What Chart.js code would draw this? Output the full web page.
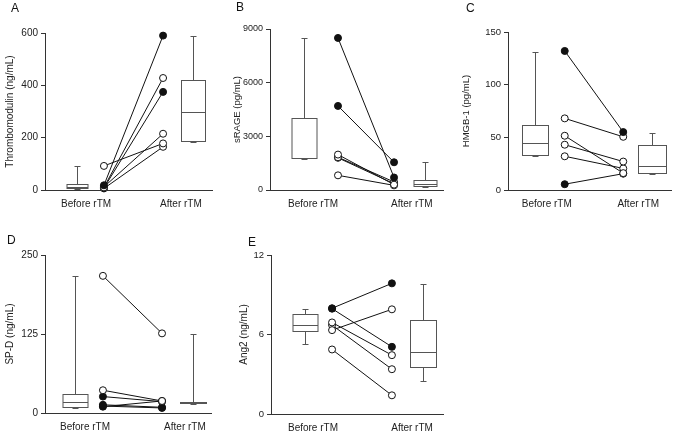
<!DOCTYPE html>
<html><head><meta charset="utf-8">
<script src="https://cdn.jsdelivr.net/npm/chart.js@4"></script>
<style>
body{margin:0;background:#fff;width:676px;height:435px;position:relative;overflow:hidden;font-family:"Liberation Sans",Arial,sans-serif}
canvas{position:absolute}
.lt{position:absolute;font-size:12px;line-height:12px;color:#111}
</style></head><body>
<script>
const groups = ['Before rTM', 'After rTM'];

/* A: Thrombomodulin (ng/mL) */
const tmBefore = [18, 10, 8, 12, 92, 6];
const tmAfter  = [590, 428, 375, 215, 178, 165];
const tmFilled = [1, 0, 1, 0, 0, 0];
const tmBoxBefore = [5, 6, 13, 22, 92];      // min, q1, median, q3, max
const tmBoxAfter  = [182, 187, 299, 419, 590];

/* B: sRAGE (pg/mL) */
const srBefore = [8500, 4700, 1980, 1830, 1800, 820];
const srAfter  = [700, 1550, 300, 450, 350, 260];
const srFilled = [1, 1, 0, 0, 0, 0];
const srBoxBefore = [1720, 1770, 1800, 4000, 8500];
const srBoxAfter  = [170, 230, 330, 580, 1550];

/* C: HMGB-1 (pg/mL) */
const hmBefore = [132, 68, 51.5, 43, 32, 5.5];
const hmAfter  = [55, 50.5, 16, 27, 20.5, 15.5];
const hmFilled = [1, 0, 0, 0, 0, 1];
const hmBoxBefore = [32, 33, 45, 62, 131];
const hmBoxAfter  = [15, 16, 23, 42.5, 54.5];

/* D: SP-D (ng/mL) */
const spBefore = [217, 36, 26, 13, 10, 11];
const spAfter  = [126, 19, 18, 9, 19, 8];
const spFilled = [0, 0, 1, 1, 1, 1];
const spBoxBefore = [8, 10, 18, 30, 216];
const spBoxAfter  = [15, 16, 17, 18, 125];

/* E: Ang2 (ng/mL) */
const anBefore = [7.98, 7.95, 6.33, 6.91, 6.71, 4.87];
const anAfter  = [9.86, 5.07, 7.9, 4.44, 3.38, 1.41];
const anFilled = [1, 1, 0, 0, 0, 0];
const anBoxBefore = [5.32, 6.28, 6.69, 7.57, 7.9];
const anBoxAfter  = [2.5, 3.51, 4.67, 7.09, 9.79];

const FAMILY = '"Liberation Sans", Arial, sans-serif';
const INK = '#222';

/* Boxplot von Hand über die Skalen zeichnen */
function drawBox(chart, xv, s, w) {
  const { ctx, scales: { x, y } } = chart;
  const cx = Math.round(x.getPixelForValue(xv)) + 0.5;
  const hw = w / 2, cap = 3;
  const [mn, q1, md, q3, mx] = s.map(v => Math.round(y.getPixelForValue(v)) + 0.5);
  ctx.save();
  ctx.strokeStyle = '#555'; ctx.lineWidth = 1;
  ctx.beginPath();
  ctx.moveTo(cx, q3); ctx.lineTo(cx, mx); ctx.moveTo(cx - cap, mx); ctx.lineTo(cx + cap, mx);
  if (mn > q1) { ctx.moveTo(cx, q1); ctx.lineTo(cx, mn); ctx.moveTo(cx - cap, mn); ctx.lineTo(cx + cap, mn); }
  ctx.stroke();
  ctx.fillStyle = '#fff';
  ctx.fillRect(cx - hw, q3, w, q1 - q3);
  ctx.strokeRect(cx - hw, q3, w, q1 - q3);
  ctx.beginPath(); ctx.moveTo(cx - hw, md); ctx.lineTo(cx + hw, md); ctx.stroke();
  ctx.restore();
}

function panel(p) {
  const cv = document.createElement('canvas');
  cv.width = p.cv[2]; cv.height = p.cv[3];
  cv.style.left = p.cv[0] + 'px'; cv.style.top = p.cv[1] + 'px';
  document.body.appendChild(cv);
  const lt = document.createElement('div');
  lt.className = 'lt'; lt.textContent = p.letter;
  lt.style.left = p.lt[0] + 'px'; lt.style.top = p.lt[1] + 'px';
  document.body.appendChild(lt);

  const [bx1, px1, px2, bx2, lb1, lb2] = p.slots;
  const datasets = p.before.map((b, i) => ({
    data: [{ x: px1, y: b }, { x: px2, y: p.after[i] }],
    borderColor: '#111', borderWidth: 1,
    pointRadius: 3.5, pointBorderWidth: 1, pointBorderColor: '#111',
    pointBackgroundColor: p.filled[i] ? '#111' : '#fff',
    clip: false,
  }));

  new Chart(cv, {
    type: 'line',
    data: { datasets },
    options: {
      responsive: false, animation: false,
      layout: { padding: { top: p.area[1] - p.cv[1], right: p.cv[0] + p.cv[2] - p.area[2], left: 0, bottom: 0 } },
      plugins: { legend: { display: false }, tooltip: { enabled: false } },
      scales: {
        x: {
          type: 'linear', min: 0, max: 10,
          grid: { display: false, drawTicks: false },
          border: { color: '#333' },
          ticks: { padding: 8, maxRotation: 0, autoSkip: false, font: { family: FAMILY, size: 10 }, color: INK,
                   callback: v => (v === lb1 ? groups[0] : groups[1]) },
          afterBuildTicks: s => { s.ticks = [{ value: lb1 }, { value: lb2 }]; },
          afterFit: s => { s.height = p.cv[1] + p.cv[3] - p.area[3]; },
        },
        y: {
          min: 0, max: p.max,
          ticks: { stepSize: p.step, padding: 3, font: { family: FAMILY, size: p.fs[0] }, color: INK,
                   callback: v => String(v) },
          grid: { drawOnChartArea: false, tickLength: 4, color: '#333' },
          border: { color: '#333' },
          title: { display: true, text: p.title, font: { family: FAMILY, size: p.fs[1] }, color: INK,
                   padding: { top: 4, bottom: 0 } },
          afterFit: s => { s.width = p.area[0] - p.cv[0]; },
        },
      },
    },
    plugins: [{
      id: 'boxes',
      beforeDatasetsDraw(chart) {
        drawBox(chart, bx1, p.boxBefore, p.bw[0]);
        drawBox(chart, bx2, p.boxAfter, p.bw[1]);
      },
    }],
  });
}

panel({ letter: 'A', title: 'Thrombomodulin (ng/mL)', max: 600, step: 200, fs: [10, 10],
  before: tmBefore, after: tmAfter, filled: tmFilled, boxBefore: tmBoxBefore, boxAfter: tmBoxAfter,
  cv: [0, 0, 225, 215], area: [45, 33, 212, 190], lt: [11, 2],
  slots: [1.92, 3.53, 7.07, 8.86, 2.46, 8.14], bw: [21, 24] });

panel({ letter: 'B', title: 'sRAGE (pg/mL)', max: 9000, step: 3000, fs: [9, 9.5],
  before: srBefore, after: srAfter, filled: srFilled, boxBefore: srBoxBefore, boxAfter: srBoxAfter,
  cv: [228, 0, 224, 215], area: [270, 29, 443, 190], lt: [236, 1],
  slots: [1.99, 3.93, 7.17, 8.96, 2.49, 8.2], bw: [25, 23] });

panel({ letter: 'C', title: 'HMGB-1 (pg/mL)', max: 150, step: 50, fs: [9.5, 9.5],
  before: hmBefore, after: hmAfter, filled: hmFilled, boxBefore: hmBoxBefore, boxAfter: hmBoxAfter,
  cv: [457, 0, 219, 215], area: [508, 32, 672, 190], lt: [466, 2],
  slots: [1.68, 3.48, 7.07, 8.81, 2.38, 7.99], bw: [26, 28] });

panel({ letter: 'D', title: 'SP-D (ng/mL)', max: 250, step: 125, fs: [10, 10],
  before: spBefore, after: spAfter, filled: spFilled, boxBefore: spBoxBefore, boxAfter: spBoxAfter,
  cv: [0, 215, 225, 220], area: [45, 255, 211, 413], lt: [7, 234],
  slots: [1.78, 3.49, 7.05, 8.92, 2.41, 8.43], bw: [25, 26] });

panel({ letter: 'E', title: 'Ang2 (ng/mL)', max: 12, step: 6, fs: [9.5, 10],
  before: anBefore, after: anAfter, filled: anFilled, boxBefore: anBoxBefore, boxAfter: anBoxAfter,
  cv: [234, 215, 220, 220], area: [271, 255, 443, 414], lt: [248, 236],
  slots: [2.0, 3.55, 7.03, 8.84, 2.44, 8.2], bw: [25, 26] });
</script>
</body></html>
